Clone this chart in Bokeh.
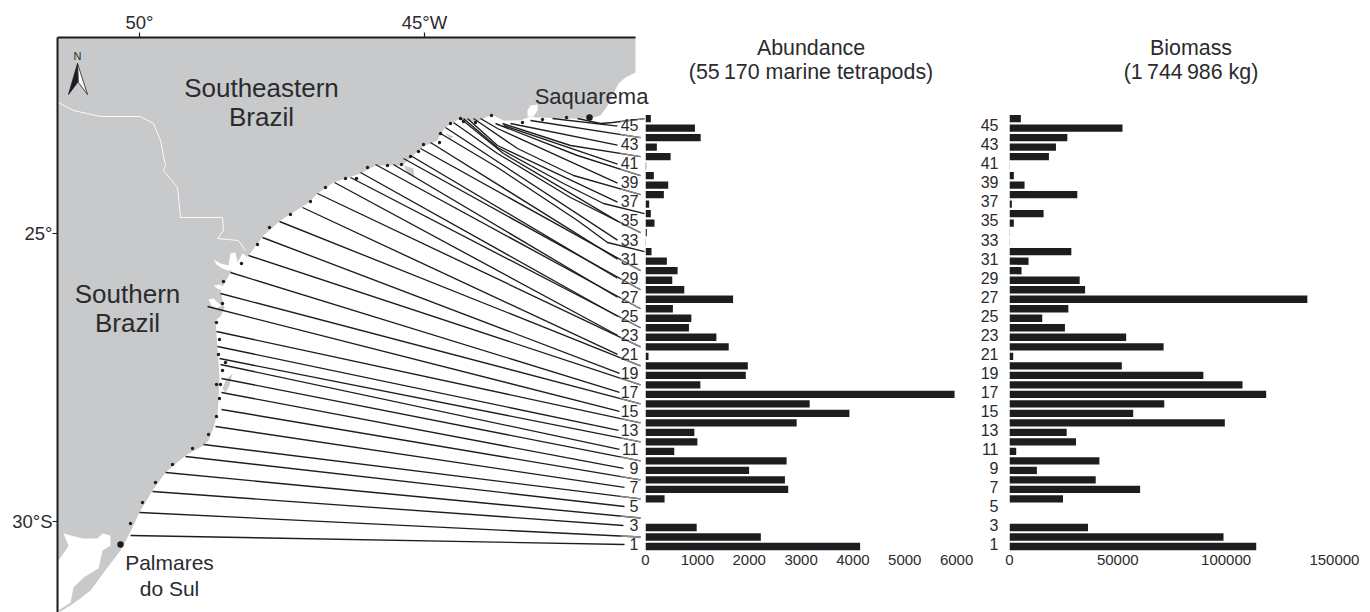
from bokeh.plotting import figure
from bokeh.layouts import row
from bokeh.models import Range1d, LinearAxis, FixedTicker, Label
from bokeh.embed import file_html
from bokeh.resources import INLINE

# ---------- data ----------
stations = list(range(1, 47))
abundance = [4139, 2224, 987, 0, 0, 368, 2752, 2689, 1998, 2721, 555, 1000, 942, 2915, 3932, 3166,
             5960, 1058, 1934, 1973, 58, 1605, 1367, 838, 884, 528, 1689, 748, 516, 619, 412, 116,
             8, 26, 174, 103, 71, 354, 438, 161, 13, 484, 219, 1064, 954, 103]
biomass = [113900, 98800, 36250, 0, 0, 24700, 60300, 39800, 12650, 41500, 3100, 30700, 26400, 99400,
           57100, 71450, 118500, 107560, 89500, 51850, 1700, 71140, 53860, 25600, 15120, 27160,
           137500, 34900, 32400, 5560, 8800, 28550, 150, 150, 2000, 15740, 1080, 31300, 6950, 2000,
           150, 18200, 21450, 26700, 52160, 5247]
odd_ticks = list(range(1, 46, 2))
abundance_ticks = [0, 1000, 2000, 3000, 4000, 5000, 6000]
biomass_ticks = [0, 50000, 100000, 150000]

# map outlines, in the units of the traced map sheet
coast_x = [57, 635, 635, 625, 618, 612, 606, 600, 590, 567, 537, 530, 520, 503, 493, 487, 475, 460, 452, 445,
           440, 437, 423, 410, 402, 375, 360, 345, 333, 317, 307, 280, 263, 248, 230, 220, 222, 224, 220, 215,
           217, 218, 219, 218, 217, 213, 208, 203, 185, 165, 152, 140, 129, 120, 107, 90, 73, 60, 57]
coast_y = [37, 37, 72, 77, 83, 95, 107, 115, 118, 118, 117, 116, 120, 120, 115, 116, 122, 118, 122, 127,
           133, 140, 146, 157, 165, 165, 173, 178, 182, 193, 203, 220, 235, 255, 272, 290, 300, 308, 316, 320,
           347, 360, 378, 400, 413, 427, 440, 445, 455, 472, 490, 510, 533, 550, 567, 590, 603, 611, 611]
water_x = [[213, 220, 228, 230, 235, 237, 242, 246, 237, 228, 222, 216],
           [213, 220, 225, 218],
           [208, 213, 217, 221, 216, 211],
           [527, 530, 537, 537, 533, 527],
           [63, 82, 97, 102, 110, 110, 102, 98, 83, 73, 70, 58, 58, 65, 68]]
water_y = [[259, 263, 265, 253, 252, 262, 253, 256, 270, 270, 268, 264],
           [285, 284, 288, 289],
           [299, 298, 302, 305, 308, 305],
           [110, 105, 104, 110, 116, 116],
           [533, 538, 538, 533, 535, 545, 550, 568, 577, 587, 602, 610, 560, 550, 545]]
island_x = [[225, 232, 229, 225, 222], [403, 413, 414, 408], [445, 453, 450]]
island_y = [[380, 373, 385, 392, 388], [165, 168, 177, 174], [133, 136, 138]]
border_x = [58, 73, 100, 140, 153, 160, 165, 163, 177, 180, 222, 223, 217, 238, 245]
border_y = [102, 110, 116, 116, 123, 140, 165, 170, 187, 217, 217, 230, 238, 240, 250]
dot_x = [130, 142, 155, 172, 192, 208, 216, 219, 216, 220, 222, 225, 218, 219, 216, 222, 223, 241, 257, 269,
         290, 310, 325, 345, 356, 367, 387, 401, 410, 418, 423, 439, 440, 450, 460, 463, 475, 491, 522, 542, 566]
dot_y = [523, 502, 482, 464, 448, 434, 416, 398, 384, 384, 370, 362, 354, 339, 322, 303, 281, 263, 244, 227,
         214, 201, 187, 178, 178, 167, 165, 164, 156, 151, 144, 142, 133, 123, 118, 121, 122, 115, 122, 119, 117]
town_x = [120, 589]
town_y = [544, 117]

# transect lines: where each leaves the coast, its bends, and where it stops
line_start_x = [130, 139, 152, 165, 185, 203, 215, 221, 221, 221, 220, 219, 217, 216, 207, 220, 230, 248, 262, 279,
                302, 317, 334, 350, 360, 375, 393, 403, 410, 420, 430, 440, 445, 453, 460, 463, 467, 473, 480, 495,
                503, 502, 510, 530, 552, 577]
line_start_y = [535, 512, 491, 472, 456, 444, 426, 409, 392, 378, 364, 358, 346, 331, 306, 293, 272, 255, 237, 221,
                207, 193, 182, 177, 172, 164, 164, 158, 155, 148, 142, 133, 127, 122, 118, 118, 118, 118, 118, 123,
                125, 123, 123, 120, 118, 118]
line_stop_x = [624, 640, 623, 640, 624, 640, 624, 640, 623, 640, 619, 640, 618, 640, 619, 640, 619, 640, 619, 640,
               617, 640, 617, 640, 617, 640, 617, 640, 617, 640, 617, 644, 617, 640, 617, 644, 617, 640, 617, 640,
               617, 640, 617, 640, 617, 644]
line_bends = {32: [(497, 167), (577, 220), (607, 242)],
              34: [(497, 153), (570, 197)],
              35: [(503, 153)],
              36: [(497, 147), (563, 183), (603, 203)],
              37: [(497, 145)],
              38: [(517, 148), (573, 175)],
              39: [(497, 128)],
              40: [(577, 155)],
              42: [(570, 145)],
              46: [(600, 123), (612, 122)]}

# ---------- layout helpers ----------
INK = "#1d1d20"
TEXT = "#2b2b2d"
LAND = "#c8c9cb"
row_base = 546.0      # page row of the bar for station 1
row_step = 9.51       # page rows per station
frame_top, frame_bottom = 8, 552
bar_y = (1 + (row_base - frame_bottom) / row_step, 1 + (row_base - frame_top) / row_step)


def row_of(station):
    return row_base - (station - 1) * row_step


def station_of(page_row):
    return 1 + (row_base - page_row) / row_step


# ---------- map ----------
m = figure(width=642, height=604, x_range=Range1d(57, 650), y_range=Range1d(612, 37),
           x_axis_location="above", y_axis_location="left", title=None, frame_align=False,
           output_backend="svg", toolbar_location=None,
           min_border_left=49, min_border_top=29, min_border_right=0, min_border_bottom=0)
m.outline_line_color = None
m.grid.visible = False
m.background_fill_color = None
m.border_fill_color = None
for ax, ticks, labels, bnd in ((m.xaxis[0], [139, 424], {139: "50°", 424: "45°W"}, (57, 635)),
                               (m.yaxis[0], [233, 521], {233: "25°", 521: "30°S"}, (37, 612))):
    ax.ticker = FixedTicker(ticks=ticks)
    ax.major_label_overrides = labels
    ax.bounds = bnd
    ax.axis_line_color = INK
    ax.axis_line_width = 2
    ax.major_tick_line_color = INK
    ax.major_tick_line_width = 1.2
    ax.major_tick_out = 5
    ax.major_tick_in = 0
    ax.minor_tick_line_color = None
    ax.major_label_text_font = "Liberation Sans"
    ax.major_label_text_font_size = "18.5px"
    ax.major_label_text_color = TEXT
    ax.major_label_standoff = 0
m.yaxis[0].major_label_orientation = "horizontal"

m.patch(coast_x, coast_y, fill_color=LAND, line_color=None)
m.patches(water_x, water_y, fill_color="white", line_color=None)
m.patches(island_x, island_y, fill_color=LAND, line_color=None)
m.line(border_x, border_y, line_color="white", line_width=0.9)

xs, ys, tail_x, tail_y = [], [], [], []
for i, st in enumerate(stations):
    stop_y = row_of(st) - (2 if st % 2 else 0)
    bends = line_bends.get(st, [])
    px = [line_start_x[i]] + [b[0] for b in bends] + [line_stop_x[i]]
    py = [line_start_y[i]] + [b[1] for b in bends] + [stop_y]
    xs.append(px)
    ys.append(py)
    if st % 2 == 0 and st not in (32, 36):
        frac = (620 - px[-2]) / (px[-1] - px[-2])
        tail_x.append([620, px[-1]])
        tail_y.append([py[-2] + frac * (py[-1] - py[-2]), py[-1]])
m.multi_line(xs, ys, line_color=INK, line_width=1.35)
m.multi_line(tail_x, tail_y, line_color="#8d8d8f", line_width=1.35)
m.scatter(dot_x, dot_y, size=3.4, color=INK, line_color=None)
m.scatter(town_x, town_y, size=6.5, color=INK, line_color=None)

# north arrow
m.patch([77, 68, 77], [63, 94, 82], fill_color=INK, line_color=INK, line_width=0.8)
m.patch([77, 87, 78], [63, 94, 82], fill_color="white", line_color=INK, line_width=0.8)


def map_label(x, y, text, size, align="center"):
    m.add_layout(Label(x=x, y=y, text=text, text_font="Liberation Sans", text_font_size=size,
                       text_color=TEXT, text_align=align, text_baseline="middle"))


map_label(77, 55, "N", "11px")
map_label(261, 87, "Southeastern", "26px")
map_label(261, 116, "Brazil", "26px")
map_label(127, 293, "Southern", "26px")
map_label(127, 322, "Brazil", "26px")
map_label(591, 96, "Saquarema", "22px")
map_label(169, 562, "Palmares", "21px")
map_label(169, 588, "do Sul", "21px")


# ---------- bar panels ----------
def bar_panel(values, ticks, x_end, width, left_gap, standoff, margin_left, title_x, titles):
    p = figure(width=width, height=564, x_range=Range1d(0, x_end), y_range=Range1d(*bar_y),
               y_axis_location=None, title=None, frame_align=False,
               output_backend="svg", toolbar_location=None,
               min_border_left=left_gap, min_border_right=0, min_border_top=0, min_border_bottom=20,
               margin=(0, 0, 0, margin_left))
    p.outline_line_color = None
    p.grid.visible = False
    p.background_fill_color = None
    p.border_fill_color = None
    p.hbar(y=stations, right=values, left=0, height=0.77, fill_color=INK, line_color=None)

    xa = p.xaxis[0]
    xa.ticker = FixedTicker(ticks=ticks)
    xa.axis_line_color = None
    xa.major_tick_line_color = None
    xa.minor_tick_line_color = None
    xa.major_tick_out = 0
    xa.major_tick_in = 0
    xa.major_label_standoff = 2
    xa.major_label_text_font = "Liberation Sans"
    xa.major_label_text_font_size = "15px"
    xa.major_label_text_color = TEXT
    xa.formatter.use_scientific = False

    # the numbers sit a little above their bars
    shift = 0.28
    p.extra_y_ranges = {"labels": Range1d(bar_y[0] - shift, bar_y[1] - shift)}
    ya = LinearAxis(y_range_name="labels", ticker=FixedTicker(ticks=odd_ticks))
    ya.axis_line_color = None
    ya.major_tick_line_color = None
    ya.minor_tick_line_color = None
    ya.major_tick_out = 0
    ya.major_tick_in = 0
    ya.major_label_standoff = standoff
    ya.major_label_text_font = "Liberation Sans"
    ya.major_label_text_font_size = "16px"
    ya.major_label_text_color = TEXT
    p.add_layout(ya, "left")

    for text, page_row in titles:
        p.add_layout(Label(x=title_x, y=station_of(page_row), text=text, text_font="Liberation Sans",
                           text_font_size="21.4px", text_color=TEXT, text_align="center",
                           text_baseline="middle"))
    return p


a = bar_panel(abundance, abundance_ticks, 331 / 0.0517, 360, 25, 7, -33, (810 - 645) / 0.0517,
              [("Abundance", 47), ("(55\u2009170 marine tetrapods)", 71)])
b = bar_panel(biomass, biomass_ticks, 352 / 0.00216, 385, 24, 11, 0, (1190 - 1009) / 0.00216,
              [("Biomass", 47), ("(1\u2009744\u2009986 kg)", 71)])

page = row(m, a, b, spacing=0, margin=(8, 0, 0, 8))
open("out.html", "w").write(file_html(page, INLINE))
